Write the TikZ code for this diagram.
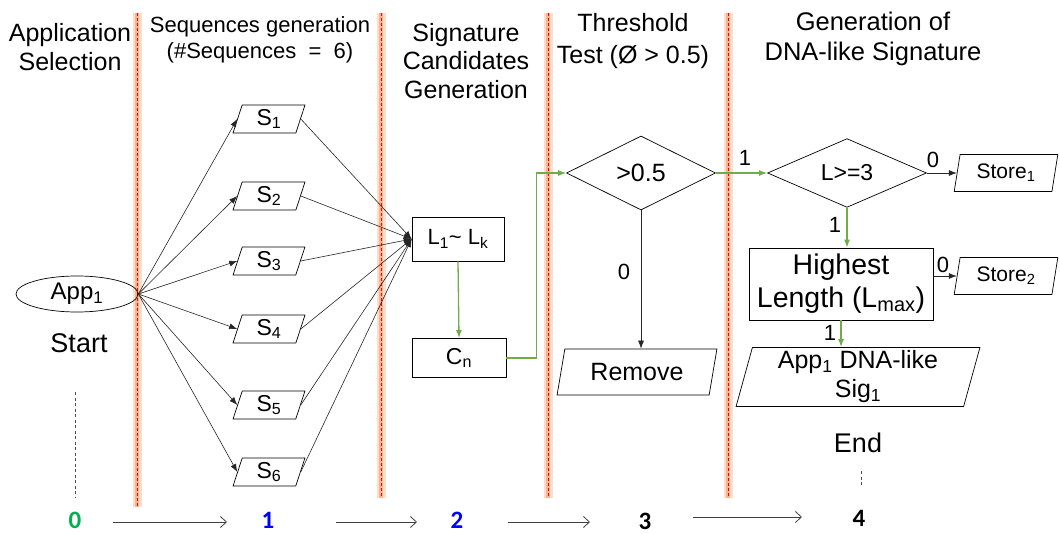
\documentclass[tikz,border=0pt]{standalone}
\usepackage{fontspec}
\setmainfont{Liberation Sans}
\newfontfamily\digitfont{Carlito}
\usetikzlibrary{shapes.geometric,arrows.meta}
\definecolor{ggreen}{HTML}{70AD47}
\definecolor{dgreen}{HTML}{00B050}
\definecolor{glowA}{RGB}{253,222,202}
\definecolor{glowB}{RGB}{249,180,145}
\tikzset{
  boxnode/.style={draw, line width=0.7pt, inner sep=0pt},
  para/.style={draw, line width=0.7pt, trapezium, trapezium stretches=true, inner sep=0pt},
  sbox/.style={para, trapezium left angle=78, trapezium right angle=102, minimum width=72, minimum height=28, font=\fontsize{23}{26}\selectfont},
  storebox/.style={para, trapezium left angle=78, trapezium right angle=102, minimum width=104, minimum height=37, font=\fontsize{21}{24}\selectfont},
  flowarr/.style={-{Latex[length=8pt,width=6pt]}, line width=0.6pt, black!85},
  garr/.style={-{Latex[length=8pt,width=6pt]}, line width=1.3pt, ggreen},
  barr/.style={-{Straight Barb[length=6pt,width=11pt]}, line width=0.8pt, black!75},
  lbl/.style={font=\fontsize{22}{24}\selectfont},
  digit/.style={font=\digitfont\bfseries\fontsize{25}{27}\selectfont, inner sep=0pt},
}
\begin{document}
\begin{tikzpicture}[x=1pt,y=-1pt]
\useasboundingbox (0,0) rectangle (1060,534);
% lane separators
\foreach \x/\b in {137/507,381/498,548/498,728/498} {
  \draw[line width=9pt, glowA] (\x,13) -- (\x,\b);
  \draw[line width=4pt, glowB] (\x,13) -- (\x,\b);
  \draw[red, line width=0.8pt, dash pattern=on 3pt off 2pt] (\x,13) -- (\x,\b);
}
% titles
\node[align=center, font=\fontsize{25}{29}\selectfont] (t0) at (70,47) {Application\\Selection};
\node[align=center, font=\fontsize{22}{26}\selectfont] (t1) at (260,40) {Sequences generation\\(\#Sequences\ \ =\ \ 6)};
\node[align=center, font=\fontsize{25}{28.5}\selectfont] (t2) at (466,61) {Signature\\Candidates\\Generation};
\node[align=center, font=\fontsize{25}{32}\selectfont] (t3) at (633,41) {Threshold\\Test (Ø > 0.5)};
\node[align=center, font=\fontsize{25.5}{30}\selectfont] (t4) at (873,39) {Generation of\\DNA-like Signature};
% stage 0
\node[draw, ellipse, line width=0.7pt, minimum width=122, minimum height=36, inner sep=0pt, font=\fontsize{24}{26}\selectfont] (app) at (77,294) {App\textsubscript{1}};
\node[font=\fontsize{27}{30}\selectfont] (start) at (79,343) {Start};
\coordinate (d0a) at (75,392);
\coordinate (d0b) at (75,497);
\draw[black!70, line width=0.6pt, dash pattern=on 3pt off 2.5pt] (d0a) -- (d0b);
% sequences
\node[sbox] (s1) at (269,119) {S\textsubscript{1}};
\node[sbox] (s2) at (269,196) {S\textsubscript{2}};
\node[sbox] (s3) at (269,261) {S\textsubscript{3}};
\node[sbox] (s4) at (269,329) {S\textsubscript{4}};
\node[sbox] (s5) at (269,405) {S\textsubscript{5}};
\node[sbox] (s6) at (269,472) {S\textsubscript{6}};
\node[boxnode, minimum width=92, minimum height=44, font=\fontsize{22}{24}\selectfont] (lk) at (458,239) {L\textsubscript{1}\textasciitilde\ L\textsubscript{k}};
\foreach \s in {s1,s2,s3,s4,s5,s6} {
  \draw[flowarr] (app.east) -- (\s.left side);
  \draw[flowarr] (\s.right side) -- (lk.west);
}
\node[boxnode, minimum width=94, minimum height=39, font=\fontsize{23}{26}\selectfont] (cn) at (459,358) {C\textsubscript{n}};
\draw[garr] (lk.south) -- (cn.north);
% threshold
\node[draw, diamond, line width=0.7pt, minimum width=149, minimum height=74, inner sep=0pt, font=\fontsize{25}{28}\selectfont] (d1) at (641,173) {>0.5};
\draw[garr] (cn.east) -- ++(30,0) |- (d1.west);
\node[para, trapezium left angle=74, trapezium right angle=106, minimum width=160, minimum height=46, font=\fontsize{25}{28}\selectfont] (rem) at (637,372) {Remove};
\draw[flowarr] (d1.south) -- (d1.south |- rem.top side);
\node[lbl] (z1) at (624,272) {0};
% DNA-like signature
\node[draw, diamond, line width=0.7pt, minimum width=159, minimum height=68, inner sep=0pt, font=\fontsize{23}{26}\selectfont] (d2) at (847,173) {L>=3};
\draw[garr] (d1.east) -- (d2.west);
\node[lbl] (o1) at (745,158) {1};
\node[storebox] (st1) at (1006,173) {Store\textsubscript{1}};
\draw[flowarr] (d2.east) -- (st1.left side);
\node[lbl] (z2) at (933,160) {0};
\node[boxnode, align=center, minimum width=184, minimum height=72, font=\fontsize{28.5}{33}\selectfont] (hl) at (841,284) {Highest\\Length (L\textsubscript{max})};
\draw[garr] (d2.south) -- (d2.south |- hl.north);
\node[lbl] (o2) at (835,225) {1};
\node[storebox] (st2) at (1006,276) {Store\textsubscript{2}};
\draw[flowarr] (hl.east |- st2.left side) -- (st2.left side);
\node[lbl] (z3) at (943,265) {0};
\node[para, align=center, trapezium left angle=76.7, trapezium right angle=103.3, minimum width=244, minimum height=59, font=\fontsize{25}{29}\selectfont] (sig) at (858,377) {App\textsubscript{1} DNA-like\\Sig\textsubscript{1}};
\draw[garr] (hl.south) -- (hl.south |- sig.top side);
\node[lbl] (o3) at (830,333) {1};
\node[font=\fontsize{27}{30}\selectfont] (end) at (858,443) {End};
\coordinate (d4a) at (861,471);
\coordinate (d4b) at (861,487);
\draw[black!70, line width=0.6pt, dash pattern=on 3pt off 2.5pt] (d4a) -- (d4b);
% stage numbers
\node[digit, dgreen] (n0) at (75,520) {0};
\node[digit, blue] (n1) at (268,520) {1};
\node[digit, blue] (n2) at (457,520) {2};
\node[digit, black] (n3) at (645,521) {3};
\node[digit, black] (n4) at (859,518) {4};
\coordinate (a0) at (113,522); \coordinate (b0) at (227,522);
\coordinate (a1) at (336,522); \coordinate (b1) at (417,522);
\coordinate (a2) at (508,522); \coordinate (b2) at (590,522);
\coordinate (a3) at (693,517); \coordinate (b3) at (802,517);
\draw[barr] (a0) -- (b0);
\draw[barr] (a1) -- (b1);
\draw[barr] (a2) -- (b2);
\draw[barr] (a3) -- (b3);
\end{tikzpicture}
\end{document}
